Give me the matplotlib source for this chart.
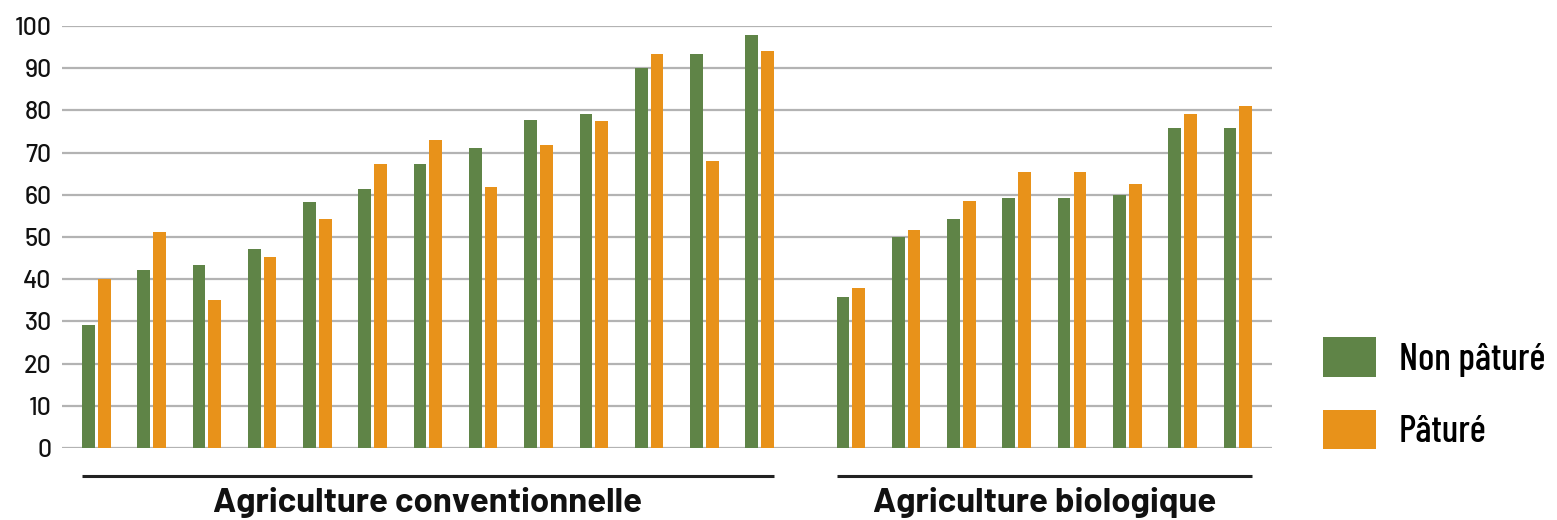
import numpy as np
import matplotlib
matplotlib.use("Agg")
import matplotlib.pyplot as plt
from matplotlib.patches import Patch

plt.rcParams['font.family'] = ['Barlow', 'DejaVu Sans']

# Values
conv_non_pature = [29.1, 42.2, 43.4, 47.2, 58.3, 61.4, 67.4, 71.0, 77.7, 79.1, 90.0, 93.4, 97.9]
conv_pature = [40.0, 51.3, 35.1, 45.3, 54.2, 67.4, 72.9, 61.8, 71.7, 77.5, 93.4, 68.1, 94.1]
bio_non_pature = [35.9, 49.9, 54.2, 59.2, 59.2, 59.9, 75.8, 75.8]
bio_pature = [37.8, 51.7, 58.5, 65.5, 65.5, 62.5, 79.2, 81.1]
groups = ["Agriculture conventionnelle", "Agriculture biologique"]
series = ["Non pâturé", "Pâturé"]
yticks = list(range(0, 101, 10))

green = "#5f8447"
orange = "#e8921a"

x_conv = np.arange(len(conv_non_pature))
x_bio = len(conv_non_pature) + 0.65 + np.arange(len(bio_non_pature))
w = 0.23
off = 0.1425

fig = plt.figure(figsize=(15.57, 5.2), dpi=100)
ax = fig.add_axes([62 / 1557, 72 / 520, 1210 / 1557, 422 / 520])

ax.bar(x_conv - off, conv_non_pature, w, color=green, zorder=3)
ax.bar(x_conv + off, conv_pature, w, color=orange, zorder=3)
ax.bar(x_bio - off, bio_non_pature, w, color=green, zorder=3)
ax.bar(x_bio + off, bio_pature, w, color=orange, zorder=3)

ax.set_xlim(-0.62, x_bio[-1] + off + w / 2 + 0.36)
ax.set_ylim(0, 100)
ax.set_yticks(yticks)
ax.yaxis.grid(True, color="#b3b3b3", linewidth=1.6, zorder=0)
ax.set_axisbelow(True)
for s in ax.spines.values():
    s.set_visible(False)
ax.set_xticks([])
ax.tick_params(axis="y", length=0, pad=7.4, labelsize=18, labelcolor="#111111")
for lab in ax.get_yticklabels():
    lab.set_fontweight("medium")

# group brackets and labels
for xs, name in [(x_conv, groups[0]), (x_bio, groups[1])]:
    x0 = xs[0] - off - w / 2
    x1 = xs[-1] + off + w / 2
    ax.plot([x0, x1], [-6.6, -6.6], color="#222222", linewidth=2.2,
            clip_on=False, solid_capstyle="butt")
    ax.text((x0 + x1) / 2, -13.0, name, ha="center", va="center",
            fontsize=25, fontweight="bold", color="#111111", clip_on=False)

handles = [Patch(facecolor=green), Patch(facecolor=orange)]
fig.legend(handles, series, loc="upper left", bbox_to_anchor=(1323 / 1557, 1 - 337 / 520),
           frameon=False, handlelength=1.39, handleheight=1.22,
           handletextpad=0.59, labelspacing=0.86, borderpad=0, borderaxespad=0,
           prop={"family": "Barlow Condensed", "size": 27.5, "weight": "medium"})

fig.savefig("out.png", dpi=100)
